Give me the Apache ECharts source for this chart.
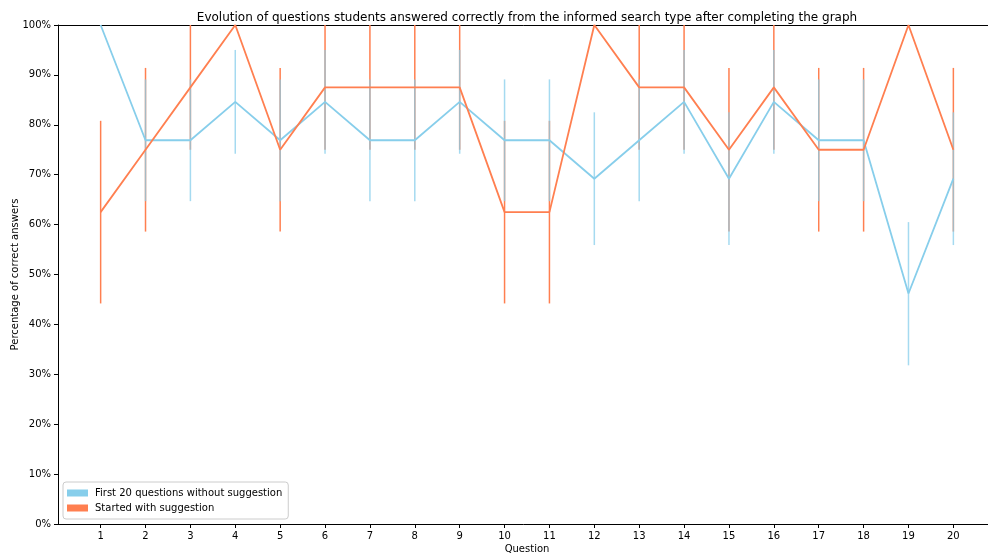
<!DOCTYPE html>
<html>
<head>
<meta charset="utf-8">
<script src="https://cdn.jsdelivr.net/npm/echarts@6/dist/echarts.min.js"></script>
<style>
html,body{margin:0;padding:0;background:#fff;}
#chart{width:988px;height:558px;}
</style>
</head>
<body>
<div id="chart"></div>
<script>
// ---- Data ----
const questions = [1,2,3,4,5,6,7,8,9,10,11,12,13,14,15,16,17,18,19,20];
const tickLabels = ['1','2','3','4','5','6','7','8','9','10','11','12','13','14','15','16','17','18','19','20'];
const yTicks = [0,10,20,30,40,50,60,70,80,90,100];

const noSuggestion     = [100, 76.9, 76.9, 84.6, 76.9, 84.6, 76.9, 76.9, 84.6, 76.9, 76.9, 69.2, 76.9, 84.6, 69.2, 84.6, 76.9, 76.9, 46.2, 69.2];
const noSuggestionLow  = [100, 64.7, 64.7, 74.2, 64.7, 74.2, 64.7, 64.7, 74.2, 64.7, 64.7, 55.9, 64.7, 74.2, 55.9, 74.2, 64.7, 64.7, 31.8, 55.9];
const noSuggestionHigh = [100, 89.1, 89.1, 95.0, 89.1, 95.0, 89.1, 89.1, 95.0, 89.1, 89.1, 82.5, 89.1, 95.0, 82.5, 95.0, 89.1, 89.1, 60.5, 82.5];

const withSuggestion     = [62.5, 75, 87.5, 100, 75, 87.5, 87.5, 87.5, 87.5, 62.5, 62.5, 100, 87.5, 87.5, 75, 87.5, 75, 75, 100, 75];
const withSuggestionLow  = [44.2, 58.6, 75, 100, 58.6, 75, 75, 75, 75, 44.2, 44.2, 100, 75, 75, 58.6, 75, 58.6, 58.6, 100, 58.6];
const withSuggestionHigh = [80.8, 91.4, 100, 100, 91.4, 100, 100, 100, 100, 80.8, 80.8, 100, 100, 100, 91.4, 100, 91.4, 91.4, 100, 91.4];

const seriesNames = ['First 20 questions without suggestion', 'Started with suggestion'];
const colors = ['#87CEEB', '#FF7F50'];

// ---- Build ----
const FONT = 'DejaVu Sans';
function errData(lo, hi){ return questions.map((q,i)=>[q, lo[i], hi[i]]); }
function errRender(color, opacity){
  return function(params, api){
    const x = api.value(0);
    const p1 = api.coord([x, api.value(1)]);
    const p2 = api.coord([x, api.value(2)]);
    return {type:'line', shape:{x1:p1[0], y1:p1[1], x2:p2[0], y2:p2[1]},
            style:{stroke:color, lineWidth:1.5, opacity:opacity}};
  };
}

const chart = echarts.init(document.getElementById('chart'), null, {renderer:'canvas'});
chart.setOption({
  animation:false,
  backgroundColor:'#fff',
  color:colors,
  textStyle:{fontFamily:FONT},
  title:{
    text:'Evolution of questions students answered correctly from the informed search type after completing the graph',
    left:522, top:7, textAlign:'center',
    textStyle:{fontFamily:FONT, fontSize:12, fontWeight:'normal', color:'#000'}
  },
  legend:{
    data:seriesNames.map((n,i)=>({name:n, icon:'rect', itemStyle:{color:colors[i], borderWidth:0}})),
    orient:'vertical', left:63, bottom:39,
    itemWidth:21, itemHeight:7, itemGap:3,
    padding:[5,6,5,4],
    backgroundColor:'rgba(255,255,255,0.8)', borderColor:'#cccccc', borderWidth:1, borderRadius:3,
    textStyle:{fontFamily:FONT, fontSize:10, color:'#000', lineHeight:12, padding:[0,0,0,2]}
  },
  grid:{left:58, right:-8, top:25, bottom:34, containLabel:false, outerBoundsMode:'none'},
  xAxis:[{
    type:'value', min:0.05, max:20.95,
    name:'Question', nameLocation:'middle', nameGap:20, nameMoveOverlap:false,
    nameTextStyle:{fontFamily:FONT, fontSize:10, color:'#000'},
    axisLine:{show:true, lineStyle:{color:'#000', width:1}},
    axisTick:{show:true, customValues:questions, length:4, lineStyle:{color:'#000'}},
    axisLabel:{show:true, customValues:questions, formatter:(v)=>tickLabels[questions.indexOf(Math.round(v))], fontFamily:FONT, fontSize:10, color:'#000', margin:7},
    splitLine:{show:false}
  },{
    type:'value', min:0.05, max:20.95, position:'top',
    axisLine:{show:true, onZero:false, lineStyle:{color:'#000', width:1}},
    axisTick:{show:false}, axisLabel:{show:false}, splitLine:{show:false}
  }],
  yAxis:{
    type:'value', min:0, max:100, interval:10,
    name:'Percentage of correct answers', nameLocation:'middle', nameGap:38, nameRotate:90, nameMoveOverlap:false,
    nameTextStyle:{fontFamily:FONT, fontSize:10, color:'#000'},
    axisLine:{show:true, lineStyle:{color:'#000', width:1}},
    axisTick:{show:true, length:4, lineStyle:{color:'#000'}},
    axisLabel:{formatter:(v)=> (yTicks.indexOf(v)>=0 ? v+'%' : ''), fontFamily:FONT, fontSize:10, color:'#000', margin:7},
    splitLine:{show:false}
  },
  series:[
    {type:'custom', name:seriesNames[1], xAxisIndex:0, renderItem:errRender(colors[1],1), itemStyle:{color:colors[1]}, data:errData(withSuggestionLow, withSuggestionHigh), z:1, silent:true, clip:true},
    {type:'custom', name:seriesNames[0], xAxisIndex:0, renderItem:errRender(colors[0],0.75), itemStyle:{color:colors[0]}, data:errData(noSuggestionLow, noSuggestionHigh), z:2, silent:true, clip:true},
    {type:'line', name:seriesNames[0], xAxisIndex:0, data:questions.map((q,i)=>[q,noSuggestion[i]]), showSymbol:false, symbol:'none', lineStyle:{color:colors[0], width:1.8}, itemStyle:{color:colors[0]}, z:3, clip:false},
    {type:'line', name:seriesNames[1], xAxisIndex:0, data:questions.map((q,i)=>[q,withSuggestion[i]]), showSymbol:false, symbol:'none', lineStyle:{color:colors[1], width:1.8}, itemStyle:{color:colors[1]}, z:4, clip:false}
  ]
});
</script>
</body>
</html>
